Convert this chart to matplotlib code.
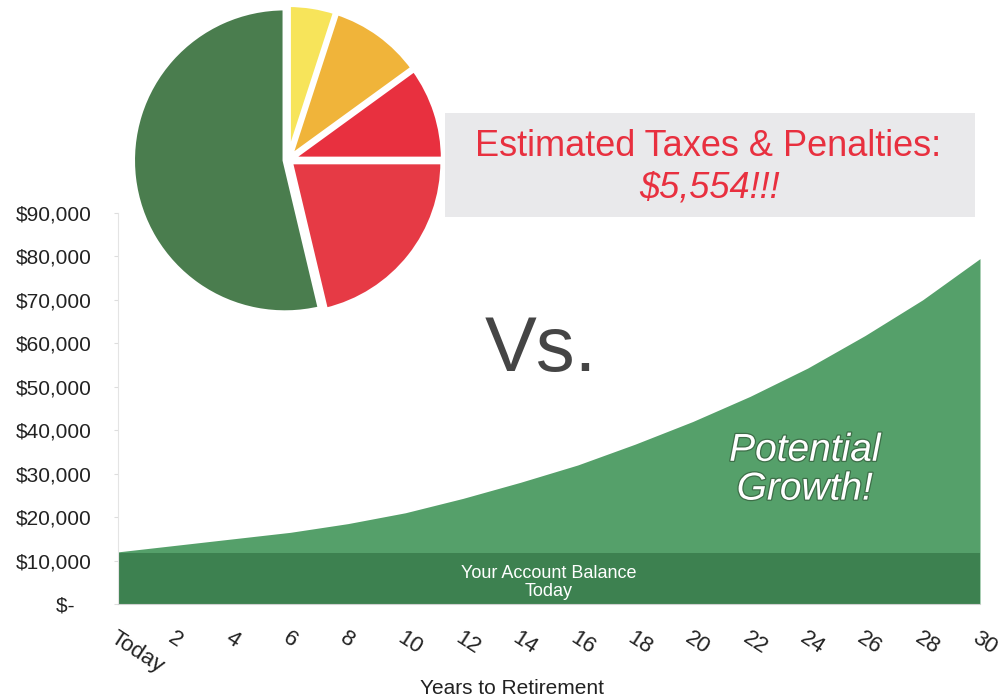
import numpy as np
import matplotlib.pyplot as plt
import matplotlib.patheffects as pe
from matplotlib.patches import Rectangle

plt.rcParams['font.family'] = ['Liberation Sans', 'DejaVu Sans']

# growth of the account
years = [0, 2, 4, 6, 8, 10, 12, 14, 16, 18, 20, 22, 24, 26, 28, 30]
growth = [12000, 13500, 15000, 16500, 18500, 21000, 24300, 28000, 32000,
          36800, 42000, 47800, 54300, 61800, 70000, 79500]
balance_today = 11700

x_ticks = [0, 2, 4, 6, 8, 10, 12, 14, 16, 18, 20, 22, 24, 26, 28, 30]
x_labels = ['Today', '2', '4', '6', '8', '10', '12', '14', '16', '18', '20',
            '22', '24', '26', '28', '30']
y_ticks = [0, 10000, 20000, 30000, 40000, 50000, 60000, 70000, 80000, 90000]
y_labels = ['$-   ', '$10,000', '$20,000', '$30,000', '$40,000', '$50,000',
            '$60,000', '$70,000', '$80,000', '$90,000']

# pie: what is kept vs taxes and penalties (clockwise from the top)
pie_parts = ['Yellow', 'Orange', 'Red small', 'Red large', 'Kept']
pie_values = [600, 1200, 1200, 2554, 6446]
pie_colors = ['#f7e45a', '#f0b43a', '#e8303f', '#e63a45', '#4a7d4e']

fig = plt.figure(figsize=(10.06, 7.0), dpi=100)
ax = fig.add_axes([118 / 1006, 96 / 700, 862 / 1006, 391 / 700])

ax.fill_between(years, 0, growth, color='#55a06a', linewidth=0)
ax.fill_between([years[0], years[-1]], 0, balance_today, color='#3d8150', linewidth=0)

ax.set_xlim(0, 30)
ax.set_ylim(0, 90000)
ax.set_xticks(x_ticks)
ax.set_xticklabels(x_labels, rotation=-33, ha='left', rotation_mode='anchor',
                   fontsize=16, color='#222222')
ax.set_yticks(y_ticks)
ax.set_yticklabels(y_labels, fontsize=15, color='#222222')
ax.tick_params(axis='y', length=3, pad=16, color='#dddddd')
ax.tick_params(axis='x', length=0, pad=17)
for side in ['top', 'right']:
    ax.spines[side].set_visible(False)
ax.spines['left'].set_color('#e4e4e4')
ax.spines['bottom'].set_color('#d0d0d0')
fig.text(512 / 1006, 1 - 688 / 700, 'Years to Retirement', ha='center', va='center',
         fontsize=15, color='#222222')

ax.text(15, 5000, 'Your Account Balance\nToday', ha='center', va='center',
        color='white', fontsize=13, linespacing=1.1)
ax.text(23.9, 30800, 'Potential\nGrowth!', ha='center', va='center', color='white',
        fontsize=28, style='italic', linespacing=1.1,
        path_effects=[pe.withStroke(linewidth=1.8, foreground='#3d6e48')])

fig.text(541 / 1006, 0.50, 'Vs.', ha='center', va='center', fontsize=56, color='#454545')

# grey label box
fig.patches.append(Rectangle((445 / 1006, 1 - 217 / 700), 530 / 1006, 104 / 700,
                             transform=fig.transFigure, facecolor='#e9e9eb',
                             edgecolor='none', zorder=0))
fig.text(708 / 1006, 1 - 146 / 700, 'Estimated Taxes & Penalties:', ha='center',
         va='center', fontsize=26, color='#e8303f')
fig.text(710 / 1006, 1 - 188 / 700, '$5,554!!!', ha='center', va='center',
         fontsize=26, color='#e8303f', style='italic')

pax = fig.add_axes([128 / 1006, 1 - 320 / 700, 320 / 1006, 320 / 700])
pax.pie(pie_values, colors=pie_colors, startangle=90, counterclock=False,
        explode=[0.02, 0.02, 0.02, 0.02, 0.02],
        wedgeprops=dict(edgecolor='white', linewidth=3.5))
pax.set_xlim(-1.05, 1.05)
pax.set_ylim(-1.05, 1.05)
pax.set_aspect('equal')

fig.savefig('out.png', dpi=100)
